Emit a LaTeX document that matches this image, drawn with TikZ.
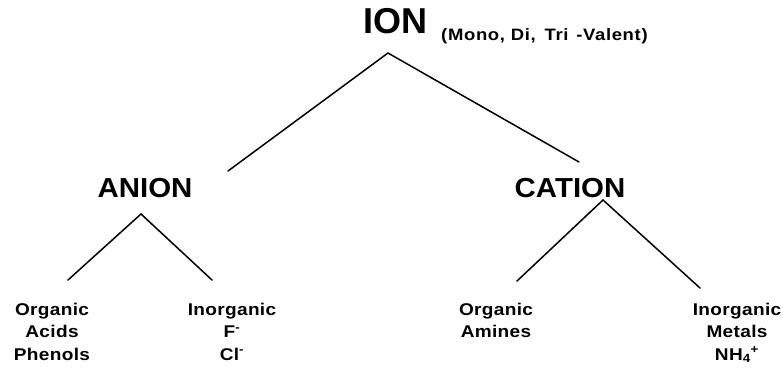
\documentclass[tikz,border=0pt]{standalone}
\usepackage{fontspec}
\setmainfont{Liberation Sans}
\newfontfamily\headfont{Liberation Sans}[FakeStretch=1.07]
\newfontfamily\leaffont{Liberation Sans}[FakeStretch=1.12,LetterSpace=2]
\newfontfamily\notefont{Liberation Sans}[FakeStretch=1.12,LetterSpace=4]

\tikzset{
  topword/.style={inner sep=0pt, font=\fontsize{36}{40}\selectfont\bfseries},
  subtitle/.style={inner sep=0pt, font=\notefont\fontsize{16.5}{20}\selectfont\bfseries},
  midword/.style={inner sep=0pt, font=\headfont\fontsize{27.5}{30}\selectfont\bfseries},
  leaf/.style={inner sep=0pt, align=center, anchor=north,
    font=\leaffont\fontsize{17}{22.5}\selectfont\bfseries},
  branch/.style={line width=1.5pt, line cap=round, line join=miter}
}

\begin{document}
\begin{tikzpicture}[x=1pt, y=-1pt]
  \useasboundingbox (0,0) rectangle (783,368);

  % root
  \node[topword, anchor=base west] (ion) at (363,33) {ION};
  \node[subtitle, anchor=base west] (valent) at (441,40) {(Mono, Di,\hspace{3pt} Tri\hspace{2pt} -Valent)};

  % second level
  \node[midword, anchor=base] (anion) at (145,197) {ANION};
  \node[midword, anchor=base] (cation) at (570,197) {CATION};

  % leaves
  \node[leaf] (orgacid) at (52,302.5) {Organic\\Acids\\Phenols};
  \node[leaf] (inorgan) at (232,302.5) {Inorganic\\F\textsuperscript{-}\\Cl\textsuperscript{-}};
  \node[leaf] (orgcat) at (496,302.5) {Organic\\Amines};
  \node[leaf] (inorgcat) at (737,302.5) {Inorganic\\Metals\\NH\textsubscript{4}\textsuperscript{+}};

  % branch points
  \coordinate (ionTip) at (388,53);
  \coordinate (ionL) at (228,171);
  \coordinate (ionR) at (579,162);
  \coordinate (anTip) at (141,214);
  \coordinate (anL) at (68,280);
  \coordinate (anR) at (212,280);
  \coordinate (caTip) at (603,200);
  \coordinate (caL) at (517,281);
  \coordinate (caR) at (700,288);

  \draw[branch] (ionL) -- (ionTip) -- (ionR);
  \draw[branch] (anL) -- (anTip) -- (anR);
  \draw[branch] (caL) -- (caTip) -- (caR);
\end{tikzpicture}
\end{document}
